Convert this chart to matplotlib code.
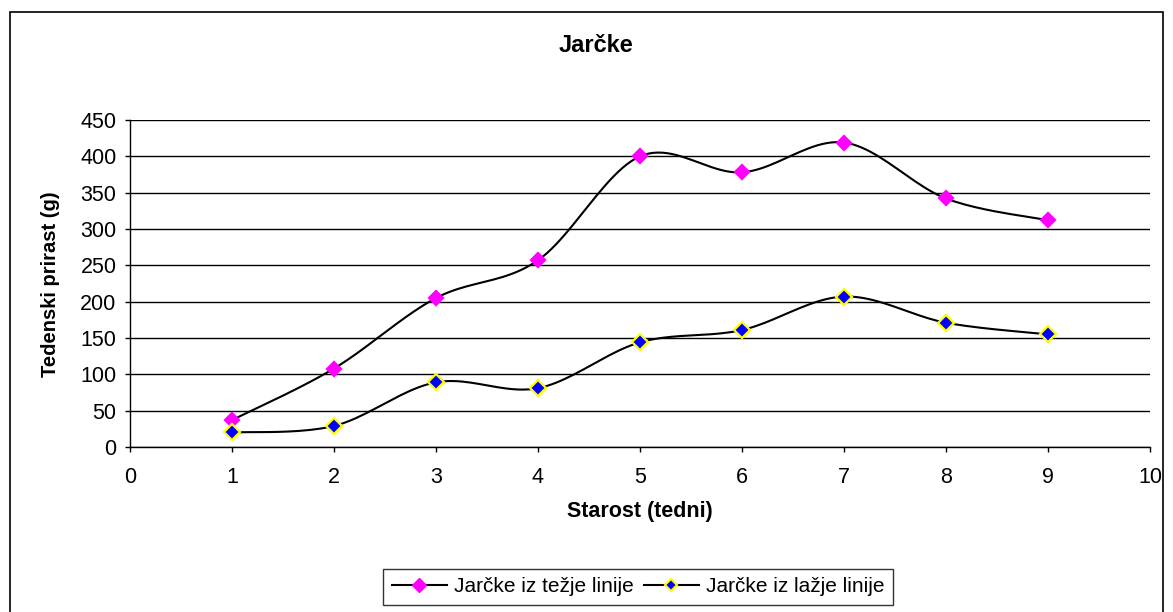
import numpy as np
import matplotlib
matplotlib.use("Agg")
import matplotlib.pyplot as plt
from matplotlib.patches import Rectangle

plt.rcParams['font.family'] = ['Liberation Sans', 'DejaVu Sans']

weeks = [1, 2, 3, 4, 5, 6, 7, 8, 9]
heavy_line = [37, 108, 205, 257, 400, 378, 419, 342, 312]
light_line = [20, 29, 89, 81, 144, 161, 207, 171, 155]
label_heavy = "Jarčke iz težje linije"
label_light = "Jarčke iz lažje linije"


def smooth(xs, ys, n=24):
    """Cubic Bezier smoothing through every point (spreadsheet-style)."""
    p = np.column_stack([xs, ys]).astype(float)
    ext = np.vstack([p[0], p, p[-1]])
    out = []
    t = np.linspace(0, 1, n)[:, None]
    for i in range(len(p) - 1):
        p0, p1 = ext[i + 1], ext[i + 2]
        c1 = p0 + (ext[i + 2] - ext[i]) / 6.0
        c2 = p1 - (ext[i + 3] - ext[i + 1]) / 6.0
        seg = ((1 - t) ** 3) * p0 + 3 * ((1 - t) ** 2) * t * c1 \
            + 3 * (1 - t) * t ** 2 * c2 + t ** 3 * p1
        out.append(seg if i == 0 else seg[1:])
    s = np.vstack(out)
    return s[:, 0], s[:, 1]


fig = plt.figure(figsize=(11.73, 6.12), dpi=100)
ax = fig.add_axes([130 / 1173, 1 - 447 / 612, 1020 / 1173, 327 / 612])

# outer chart frame
fig.patches.append(Rectangle((10 / 1173, -0.05), 1153 / 1173, 1 - 12 / 612 + 0.05,
                             transform=fig.transFigure, fill=False,
                             edgecolor='black', linewidth=1.2))

for ys, mfc, mec, ms in [(heavy_line, '#FF00FF', '#FF00FF', 7.5),
                         (light_line, '#0000FF', '#FFFF00', 8)]:
    sx, sy = smooth(weeks, ys)
    ax.plot(sx, sy, color='black', linewidth=1.5, zorder=3)
    ax.plot(weeks, ys, linestyle='none', marker='D', markersize=ms,
            markerfacecolor=mfc, markeredgecolor=mec, markeredgewidth=1.6, zorder=4)

# legend proxies
h1, = ax.plot([], [], color='black', linewidth=1.5, marker='D', markersize=7.5,
              markerfacecolor='#FF00FF', markeredgecolor='#FF00FF')
h2, = ax.plot([], [], color='black', linewidth=1.5, marker='D', markersize=6,
              markerfacecolor='#0000FF', markeredgecolor='#FFFF00', markeredgewidth=1.5)

ax.set_xlim(0, 10)
ax.set_ylim(0, 450)
ax.set_xticks(range(0, 11))
ax.set_yticks(range(0, 451, 50))
ax.yaxis.grid(True, color='black', linewidth=1)
ax.set_axisbelow(True)
for s in ['top', 'right']:
    ax.spines[s].set_visible(False)
for s in ['left', 'bottom']:
    ax.spines[s].set_linewidth(1)
ax.tick_params(axis='both', direction='out', length=3.7, width=1,
               labelsize=15.5, pad=6)
ax.tick_params(axis='x', pad=11)

fig.text(596 / 1173, 1 - 46 / 612, "Jarčke", ha='center', va='center',
         fontsize=17, fontweight='bold')
fig.text(640 / 1173, 1 - 512 / 612, "Starost (tedni)", ha='center', va='center',
         fontsize=15.5, fontweight='bold')
fig.text(51 / 1173, 1 - 284 / 612, "Tedenski prirast (g)", ha='center', va='center',
         fontsize=14.5, fontweight='bold', rotation=90)

leg = fig.legend([h1, h2], [label_heavy, label_light], loc='center',
                 bbox_to_anchor=(638 / 1173, 1 - 587 / 612), ncol=2,
                 fontsize=15, frameon=True, fancybox=False, edgecolor='black',
                 handlelength=2.64, handletextpad=0.34, columnspacing=0.48,
                 borderpad=0.4, borderaxespad=0)
leg.get_frame().set_linewidth(1)

fig.savefig("out.png", dpi=100)
